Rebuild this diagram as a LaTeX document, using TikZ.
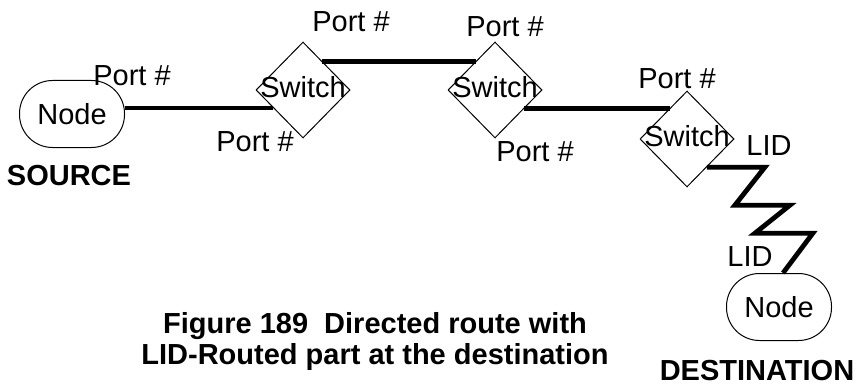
\documentclass[tikz,border=0pt]{standalone}
\usepackage{fontspec}
\setmainfont{Liberation Sans}
\usetikzlibrary{shapes.geometric}
\begin{document}
\begin{tikzpicture}[x=0.5pt,y=-0.5pt,
    every node/.style={font=\fontsize{14.5}{17}\selectfont},
    endnode/.style={draw,line width=0.5pt,rounded corners=16.5pt,minimum width=52.5pt,minimum height=33.5pt,inner sep=0pt},
    switchbox/.style={draw,line width=0.5pt,diamond,minimum width=47pt,minimum height=48pt,inner sep=0pt},
    link/.style={line width=2.4pt},
    title/.style={font=\fontsize{14.5}{15.5}\selectfont\bfseries}]
    \useasboundingbox (0,0) rectangle (867,385);
    \node[endnode] (src) at (72,114) {Node};
    \node[endnode] (dst) at (779,307) {Node};
    \foreach \i/\x/\y in {1/303/90,2/495/90,3/687/139}{
        \node[switchbox] (S_\i) at (\x,\y) {};
        \node (T_\i) at (\x,\y-3) {Switch};};
    \draw[link] (S_1.211) -- (S_1.211 -| src.east);
    \draw[link] (S_1.56) -- (S_2.124);
    \draw[link] (S_2.328) -- (S_2.328 -| S_3.119);
    \draw[link] (S_3.305) -- ++(58,0) -- ++(-30,38) -- ++(55,0) -- ++(-35,28) -- ++(58,0) -- ([xshift=2pt]dst.north);
    \foreach \x/\y [count=\k] in {132/76,255/142,351/22,505/27,535/152,677/79}{
        \node (port_\k) at (\x,\y) {Port \#};};
    \node (lid_1) at (769,146) {LID};
    \node (lid_2) at (750,257) {LID};
    \node[title] (src_lbl) at (69,176) {SOURCE};
    \node[title] (dst_lbl) at (757,371) {DESTINATION};
    \node[title,align=center] (caption) at (375,341) {Figure 189\ \ Directed route with\\LID-Routed part at the destination};
\end{tikzpicture}
\end{document}
